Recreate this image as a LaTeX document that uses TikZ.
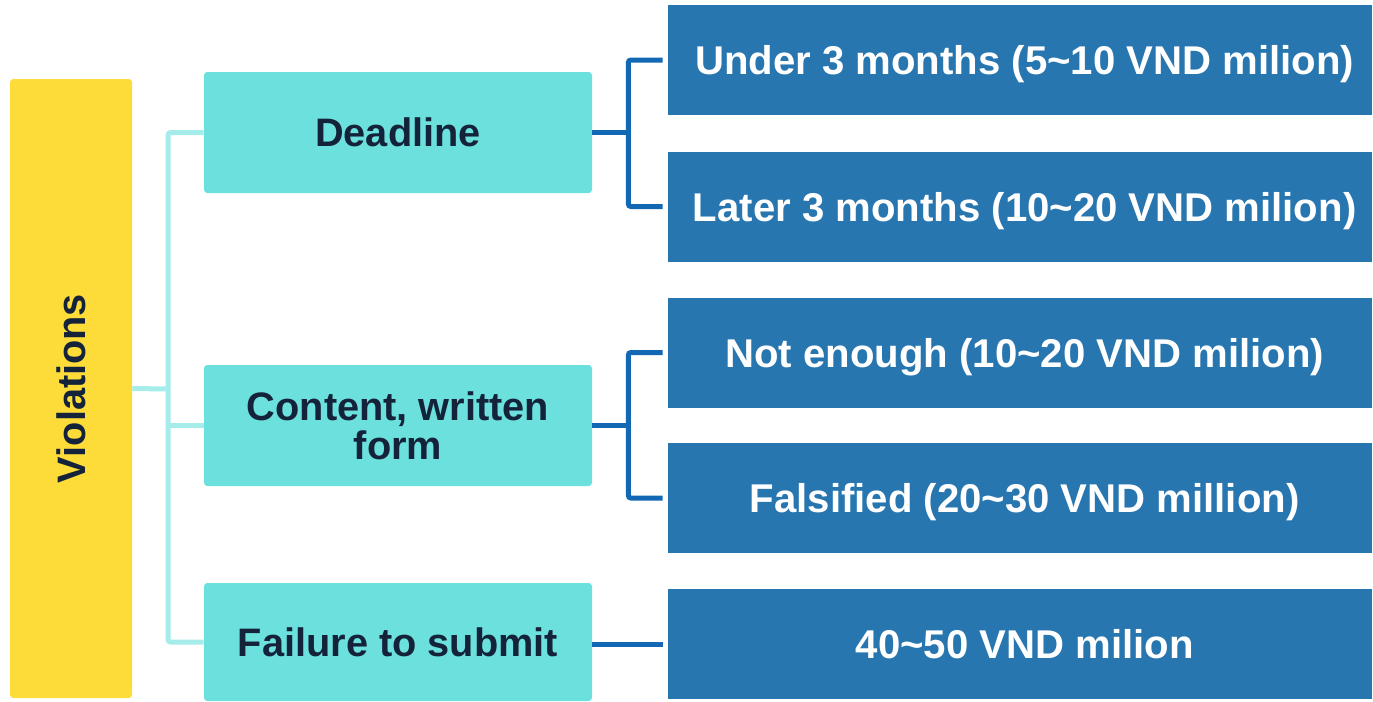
\documentclass[tikz,border=0pt]{standalone}
\usepackage{fontspec}
\setmainfont{Liberation Sans}
\definecolor{yel}{HTML}{FDDC3A}
\definecolor{teal1}{HTML}{6BE0DC}
\definecolor{tealln}{HTML}{A6ECEA}
\definecolor{bluebox}{HTML}{2776B0}
\definecolor{blueln}{HTML}{1268B3}
\definecolor{darktxt}{HTML}{14233A}
\begin{document}
\begin{tikzpicture}[x=0.75pt,y=-0.75pt,
  txt/.style={font=\fontsize{29.8}{29.5}\selectfont\bfseries},
  yelbox/.style={fill=yel,rounded corners=2.5pt,inner sep=0pt,txt,text=darktxt},
  tealbox/.style={fill=teal1,rounded corners=2.5pt,minimum width=388*0.75pt,minimum height=121*0.75pt,inner sep=0pt,txt,text=darktxt,align=center},
  bluebx/.style={fill=bluebox,minimum width=704*0.75pt,minimum height=110*0.75pt,inner sep=0pt,font=\fontsize{30.1}{30}\selectfont\bfseries,text=white,text depth=0pt},
  tline/.style={draw=tealln,line width=3.75pt},
  bline/.style={draw=blueln,line width=3.75pt}]
\useasboundingbox (0,0) rectangle (1373,701);
\node[yelbox,rotate=90,minimum width=619*0.75pt,minimum height=122*0.75pt] (viol) at (71,388.5) {Violations};
\node[tealbox] (deadline) at (398,132.5) {Deadline};
\node[tealbox] (content) at (398,425.5) {Content, written\\form};
\node[tealbox,minimum height=118*0.75pt] (failure) at (398,642) {Failure to submit};
\node[bluebx] (under) at (1020,60) {\hspace{7pt}Under 3 months (5\textasciitilde10 VND milion)};
\node[bluebx] (later) at (1020,206.5) {\hspace{7pt}Later 3 months (10\textasciitilde20 VND milion)};
\node[bluebx] (notenough) at (1020,352.5) {\hspace{7pt}Not enough (10\textasciitilde20 VND milion)};
\node[bluebx] (falsified) at (1020,498) {\hspace{7pt}Falsified (20\textasciitilde30 VND million)};
\node[bluebx] (fine) at (1020,644) {\hspace{7pt}40\textasciitilde50 VND milion};
% teal connectors
\coordinate (tk) at (168,389);
\draw[tline] (viol.south) -- (tk);
\draw[tline,rounded corners=2pt] (deadline.west) -| (tk) |- (failure.west);
\draw[tline] (tk |- content.west) -- (content.west);
% blue connectors
\draw[bline] (deadline.east) -- ++(36,0) coordinate (b1);
\draw[bline,rounded corners=2pt] ([xshift=-3.75pt]under.west) -| (b1) |- ([xshift=-3.75pt]later.west);
\draw[bline] (content.east) -- ++(36,0) coordinate (b2);
\draw[bline,rounded corners=2pt] ([xshift=-3.75pt]notenough.west) -| (b2) |- ([xshift=-3.75pt]falsified.west);
\draw[bline] (failure.east |- fine.west) -- ([xshift=-3.75pt]fine.west);
\end{tikzpicture}
\end{document}
